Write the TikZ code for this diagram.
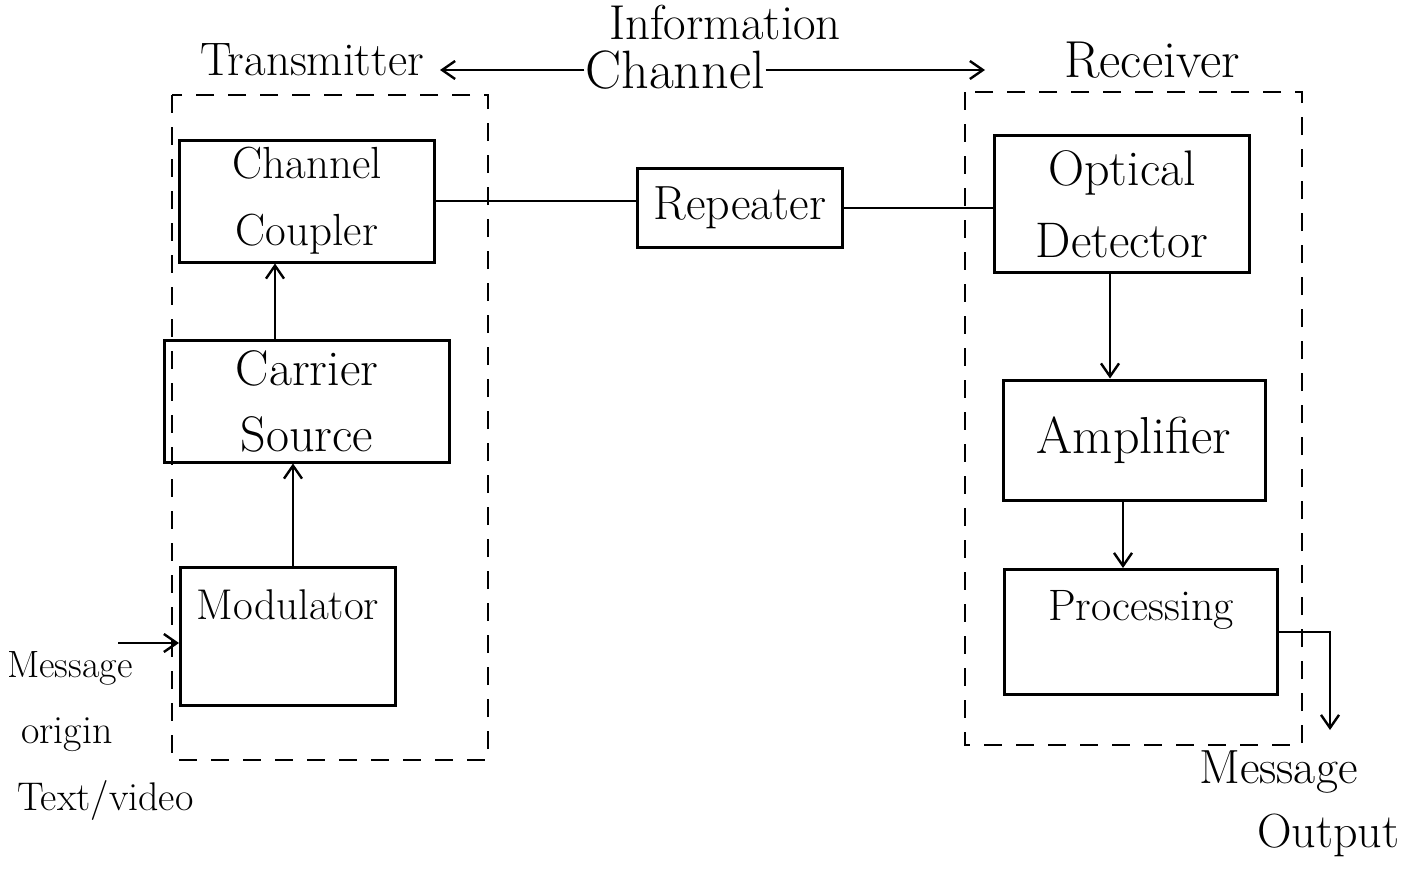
\documentclass[tikz,border=0pt]{standalone}
\usetikzlibrary{arrows.meta}
\newcommand{\fsz}[1]{\fontsize{#1}{#1}\selectfont}
\begin{document}
\begin{tikzpicture}[x=1pt,y=-1pt,
  blk/.style={draw,line width=3pt,rectangle,inner sep=0pt},
  lbl/.style={inner sep=1pt},
  conn/.style={line width=2.6pt},
  arr/.style={line width=2.6pt,-{Straight Barb[length=13pt,width=18pt,line width=2.4pt]}},
  region/.style={line width=1.8pt,dash pattern=on 18pt off 14pt}]
\useasboundingbox (0,0) rectangle (1423,868);
\fill[white] (0,0) rectangle (1423,868);

% dashed regions
\draw[region] (172,95) rectangle (488,760);
\draw[region] (965,92) rectangle (1302,745);

% header labels
\node[lbl,font=\fsz{47}] (tx) at (312,60) {Transmitter};
\node[lbl,font=\fsz{49}] (info) at (725,22) {Information};
\node[lbl,font=\fsz{54}] (chan) at (675,70) {Channel};
\node[lbl,font=\fsz{52}] (rx) at (1152,60) {Receiver};
\coordinate (txend) at (440,68);
\coordinate (rxend) at (985,72);
\draw[arr] (chan.west) -- (chan.west -| txend);
\draw[arr] (chan.east) -- (chan.east -| rxend);

% blocks
\node[blk,minimum width=255,minimum height=122,align=center,font=\fsz{45}] (coupler) at (307,201) {Channel\\[22pt]Coupler};
\node[blk,minimum width=205,minimum height=79,font=\fsz{48}] (repeater) at (740,208) {Repeater};
\node[blk,minimum width=255,minimum height=137,align=center,font=\fsz{50}] (detector) at (1122,204) {Optical\\[22pt]Detector};
\node[blk,minimum width=285,minimum height=122,align=center,font=\fsz{50}] (carrier) at (307,401) {Carrier\\[16pt]Source};
\node[blk,minimum width=215,minimum height=138] (modulator) at (288,636) {};
\node[font=\fsz{43}] (modtext) at (288,605) {Modulator};
\node[blk,minimum width=262,minimum height=120,font=\fsz{52}] (amplifier) at (1134,440) {Amplifier};
\node[blk,minimum width=273,minimum height=125] (processing) at (1141,632) {};
\node[font=\fsz{44}] (proctext) at (1141,610) {Processing};

% connectors
\draw[conn] (coupler.east) -- (coupler.east -| repeater.west);
\draw[conn] (repeater.east) -- (repeater.east -| detector.west);
\draw[arr] ([xshift=-32pt]carrier.north) -- ([xshift=-32pt]carrier.north |- coupler.south);
\draw[arr] ([xshift=5pt]modulator.north) -- ([xshift=5pt]modulator.north |- carrier.south);
\draw[arr] ([xshift=-12pt]detector.south) -- ([xshift=-12pt]detector.south |- amplifier.north);
\draw[arr] ([xshift=-11pt]amplifier.south) -- ([xshift=-11pt]amplifier.south |- processing.north);

% message in
\coordinate (msgin) at (118,643);
\draw[arr] (msgin) -- (msgin -| modulator.west);
\node[lbl,anchor=west,font=\fsz{38}] (msgorigin) at (6,668) {Message};
\node[lbl,anchor=west,font=\fsz{40}] (origin) at (20,735) {origin};
\node[lbl,anchor=west,font=\fsz{40}] (textvideo) at (16,800) {Text/video};

% message out
\coordinate (msgout) at (1330,730);
\draw[arr] (processing.east) -| (msgout);
\node[lbl,anchor=west,font=\fsz{48}] (msgo) at (1198,772) {Message};
\node[lbl,anchor=west,font=\fsz{48}] (outp) at (1256,835) {Output};
\end{tikzpicture}
\end{document}
